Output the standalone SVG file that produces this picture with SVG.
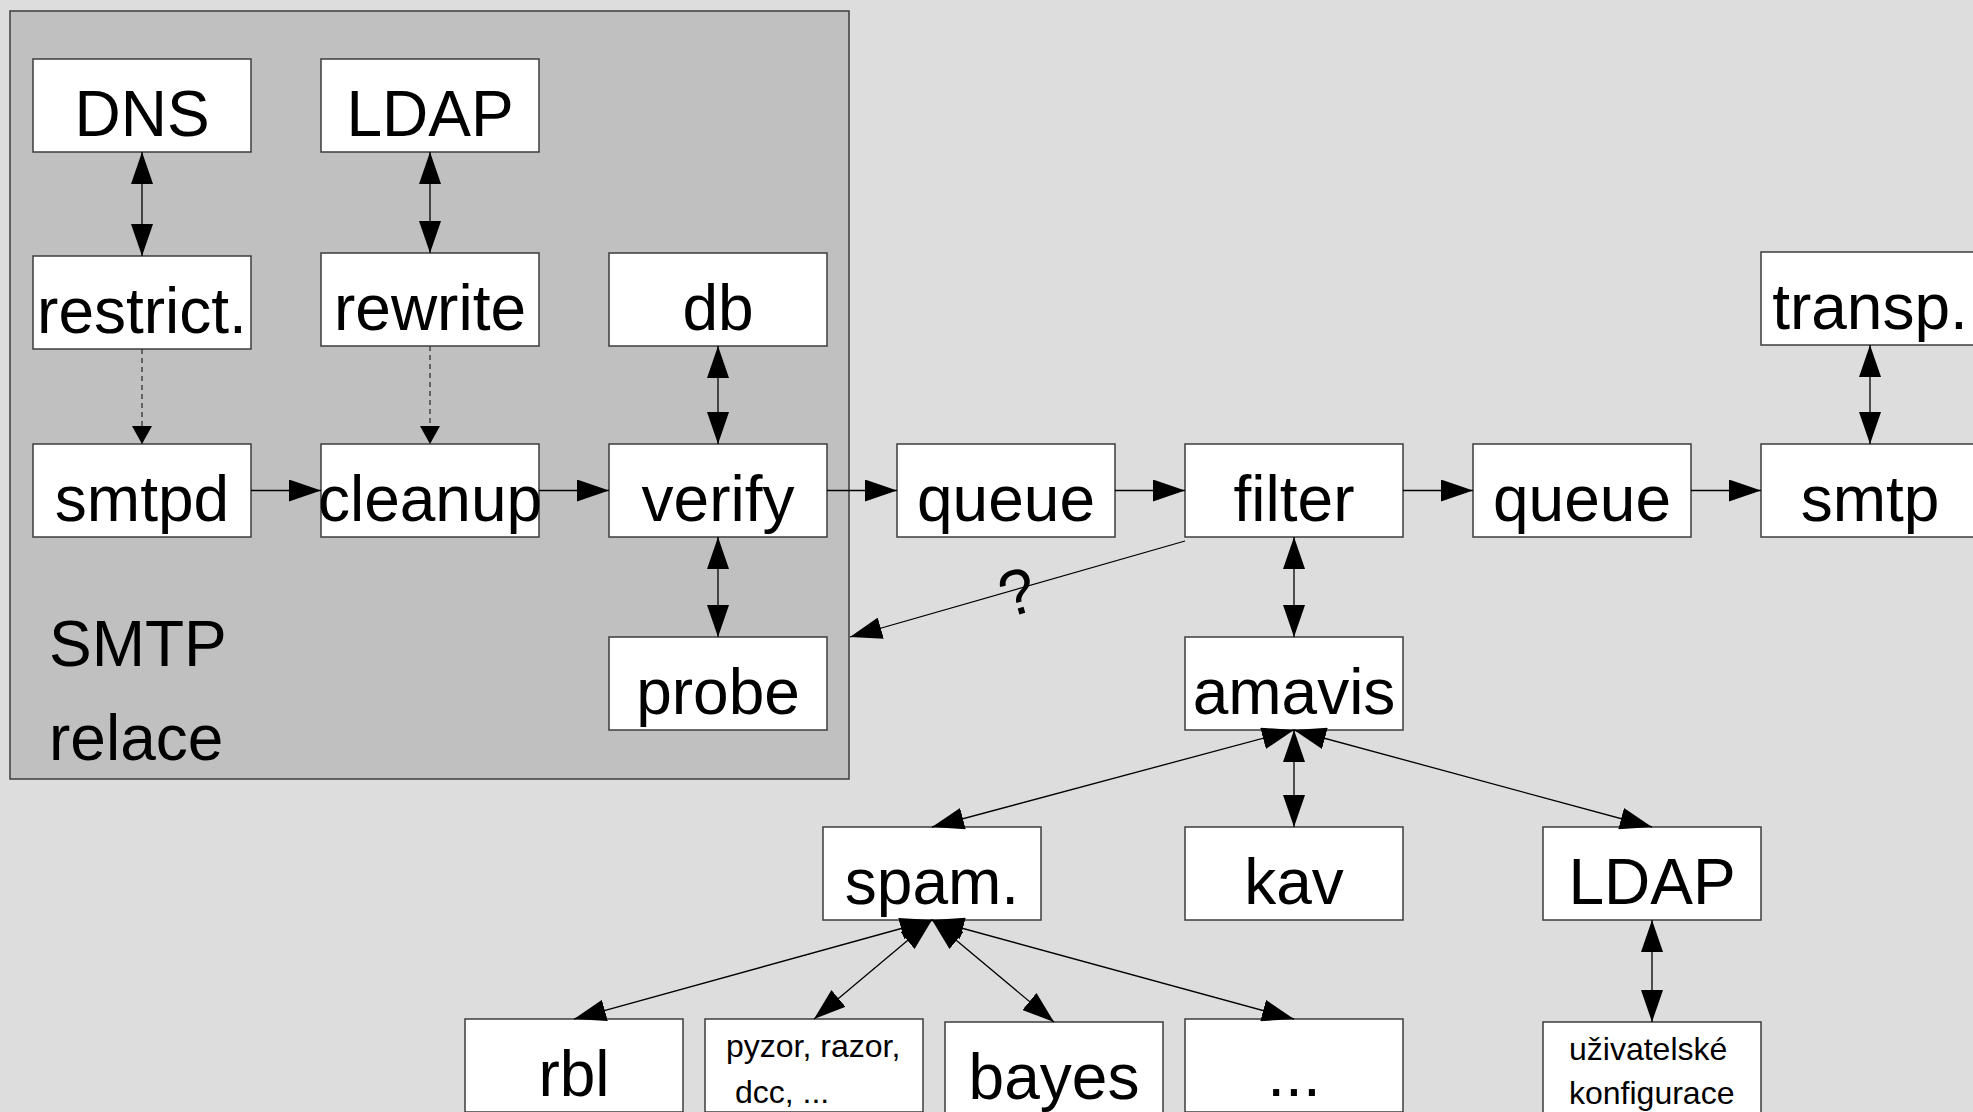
<svg xmlns="http://www.w3.org/2000/svg" width="1973" height="1112" viewBox="0 0 1973 1112">
  <style>
    .node rect { fill: #ffffff; stroke: #3c3c3c; stroke-width: 1.5; }
    .lbl { font-family: "Liberation Sans", Arial, sans-serif; font-size: 64px; fill: #000; text-anchor: middle; }
    .small { font-family: "Liberation Sans", Arial, sans-serif; font-size: 32px; fill: #000; }
    .edge { stroke: #000; stroke-width: 1.3; fill: none; }
    .dashed { stroke: #333; stroke-width: 1.3; fill: none; stroke-dasharray: 5 4; }
  </style>
  <defs>
    <marker id="arrow" viewBox="0 0 32 22" markerWidth="32" markerHeight="22" refX="32" refY="11" orient="auto-start-reverse" markerUnits="userSpaceOnUse">
      <path d="M0,0 L32,11 L0,22 Z" fill="#000"/>
    </marker>
    <marker id="arrowSmall" viewBox="0 0 18 20" markerWidth="18" markerHeight="20" refX="18" refY="10" orient="auto" markerUnits="userSpaceOnUse">
      <path d="M0,0 L18,10 L0,20 Z" fill="#000"/>
    </marker>
  </defs>

  <!-- page background -->
  <rect x="0" y="0" width="1973" height="1112" fill="#dddddd"/>

  <!-- SMTP relay cluster -->
  <g id="cluster-smtp">
    <rect x="10" y="11" width="839" height="768" fill="#c0c0c0" stroke="#3c3c3c" stroke-width="1.5"/>
    <text class="lbl" x="49" y="666" style="text-anchor:start">SMTP</text>
    <text class="lbl" x="49" y="760" style="text-anchor:start">relace</text>
  </g>

  <!-- nodes -->
  <g id="node-dns" class="node"><rect x="33" y="59" width="218" height="93"/><text class="lbl" x="142" y="136">DNS</text></g>
  <g id="node-ldap1" class="node"><rect x="321" y="59" width="218" height="93"/><text class="lbl" x="430" y="136">LDAP</text></g>
  <g id="node-restrict" class="node"><rect x="33" y="256" width="218" height="93"/><text class="lbl" x="142" y="333">restrict.</text></g>
  <g id="node-rewrite" class="node"><rect x="321" y="253" width="218" height="93"/><text class="lbl" x="430" y="330">rewrite</text></g>
  <g id="node-db" class="node"><rect x="609" y="253" width="218" height="93"/><text class="lbl" x="718" y="330">db</text></g>
  <g id="node-smtpd" class="node"><rect x="33" y="444" width="218" height="93"/><text class="lbl" x="142" y="521">smtpd</text></g>
  <g id="node-cleanup" class="node"><rect x="321" y="444" width="218" height="93"/><text class="lbl" x="430" y="521">cleanup</text></g>
  <g id="node-verify" class="node"><rect x="609" y="444" width="218" height="93"/><text class="lbl" x="718" y="521">verify</text></g>
  <g id="node-probe" class="node"><rect x="609" y="637" width="218" height="93"/><text class="lbl" x="718" y="714">probe</text></g>
  <g id="node-queue1" class="node"><rect x="897" y="444" width="218" height="93"/><text class="lbl" x="1006" y="521">queue</text></g>
  <g id="node-filter" class="node"><rect x="1185" y="444" width="218" height="93"/><text class="lbl" x="1294" y="521">filter</text></g>
  <g id="node-queue2" class="node"><rect x="1473" y="444" width="218" height="93"/><text class="lbl" x="1582" y="521">queue</text></g>
  <g id="node-smtp" class="node"><rect x="1761" y="444" width="218" height="93"/><text class="lbl" x="1870" y="521">smtp</text></g>
  <g id="node-transp" class="node"><rect x="1761" y="252" width="218" height="93"/><text class="lbl" x="1870" y="329">transp.</text></g>
  <g id="node-amavis" class="node"><rect x="1185" y="637" width="218" height="93"/><text class="lbl" x="1294" y="714">amavis</text></g>
  <g id="node-spam" class="node"><rect x="823" y="827" width="218" height="93"/><text class="lbl" x="932" y="904">spam.</text></g>
  <g id="node-kav" class="node"><rect x="1185" y="827" width="218" height="93"/><text class="lbl" x="1294" y="904">kav</text></g>
  <g id="node-ldap2" class="node"><rect x="1543" y="827" width="218" height="93"/><text class="lbl" x="1652" y="904">LDAP</text></g>
  <g id="node-rbl" class="node"><rect x="465" y="1019" width="218" height="93"/><text class="lbl" x="574" y="1096">rbl</text></g>
  <g id="node-pyzor" class="node"><rect x="705" y="1019" width="218" height="93"/>
    <text class="small" x="726" y="1057">pyzor, razor,</text>
    <text class="small" x="735" y="1103">dcc, ...</text>
  </g>
  <g id="node-bayes" class="node"><rect x="945" y="1022" width="218" height="93"/><text class="lbl" x="1054" y="1099">bayes</text></g>
  <g id="node-etc" class="node"><rect x="1185" y="1019" width="218" height="93"/><text class="lbl" x="1294" y="1096">...</text></g>
  <g id="node-userconf" class="node"><rect x="1543" y="1022" width="218" height="93"/>
    <text class="small" x="1569" y="1060">uživatelské</text>
    <text class="small" x="1569" y="1104">konfigurace</text>
  </g>

  <!-- connectors -->
  <g id="connectors">
    <line class="edge" x1="142" y1="152" x2="142" y2="256" marker-start="url(#arrow)" marker-end="url(#arrow)"/>
    <line class="edge" x1="430" y1="152" x2="430" y2="253" marker-start="url(#arrow)" marker-end="url(#arrow)"/>
    <line class="dashed" x1="142" y1="349" x2="142" y2="444" marker-end="url(#arrowSmall)"/>
    <line class="dashed" x1="430" y1="346" x2="430" y2="444" marker-end="url(#arrowSmall)"/>
    <line class="edge" x1="718" y1="346" x2="718" y2="444" marker-start="url(#arrow)" marker-end="url(#arrow)"/>
    <line class="edge" x1="718" y1="537" x2="718" y2="637" marker-start="url(#arrow)" marker-end="url(#arrow)"/>

    <line class="edge" x1="251" y1="490.5" x2="321" y2="490.5" marker-end="url(#arrow)"/>
    <line class="edge" x1="539" y1="490.5" x2="609" y2="490.5" marker-end="url(#arrow)"/>
    <line class="edge" x1="827" y1="490.5" x2="897" y2="490.5" marker-end="url(#arrow)"/>
    <line class="edge" x1="1115" y1="490.5" x2="1185" y2="490.5" marker-end="url(#arrow)"/>
    <line class="edge" x1="1403" y1="490.5" x2="1473" y2="490.5" marker-end="url(#arrow)"/>
    <line class="edge" x1="1691" y1="490.5" x2="1761" y2="490.5" marker-end="url(#arrow)"/>

    <line class="edge" x1="1870" y1="345" x2="1870" y2="444" marker-start="url(#arrow)" marker-end="url(#arrow)"/>
    <line class="edge" x1="1294" y1="537" x2="1294" y2="637" marker-start="url(#arrow)" marker-end="url(#arrow)"/>

    <!-- filter back towards the relay -->
    <line class="edge" x1="1185" y1="541" x2="850" y2="637" marker-end="url(#arrow)"/>
    <text class="lbl" x="1018" y="614" font-size="60" transform="rotate(-16 1018 595)">?</text>

    <!-- amavis fan-out -->
    <line class="edge" x1="1294" y1="730" x2="932" y2="827" marker-start="url(#arrow)" marker-end="url(#arrow)"/>
    <line class="edge" x1="1294" y1="730" x2="1294" y2="827" marker-start="url(#arrow)" marker-end="url(#arrow)"/>
    <line class="edge" x1="1294" y1="730" x2="1652" y2="827" marker-start="url(#arrow)" marker-end="url(#arrow)"/>
    <line class="edge" x1="1652" y1="920" x2="1652" y2="1022" marker-start="url(#arrow)" marker-end="url(#arrow)"/>

    <!-- spam checker fan-out -->
    <line class="edge" x1="932" y1="920" x2="574" y2="1019" marker-start="url(#arrow)" marker-end="url(#arrow)"/>
    <line class="edge" x1="932" y1="920" x2="814" y2="1019" marker-start="url(#arrow)" marker-end="url(#arrow)"/>
    <line class="edge" x1="932" y1="920" x2="1054" y2="1022" marker-start="url(#arrow)" marker-end="url(#arrow)"/>
    <line class="edge" x1="932" y1="920" x2="1294" y2="1019" marker-start="url(#arrow)" marker-end="url(#arrow)"/>
  </g>
</svg>
